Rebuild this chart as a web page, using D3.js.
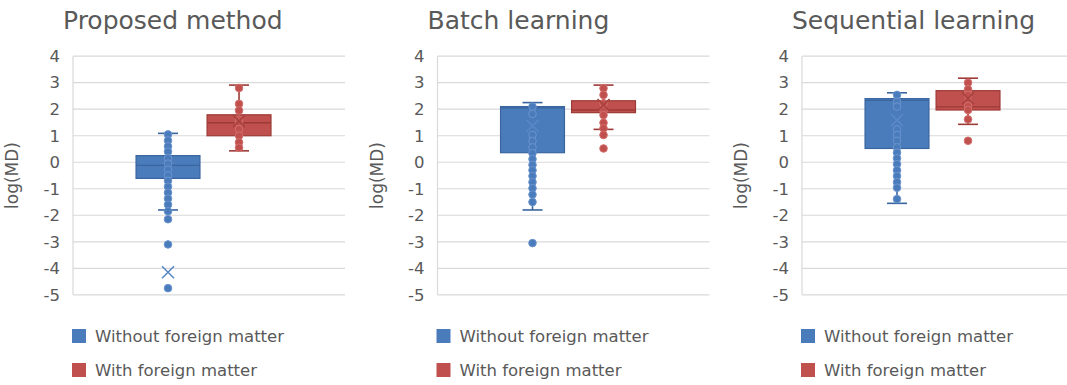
<!DOCTYPE html>
<html>
<head>
<meta charset="utf-8">
<script src="https://cdn.jsdelivr.net/npm/d3@7"></script>
<style>
  html, body { margin: 0; padding: 0; background: #fff; }
  svg { display: block; font-family: "DejaVu Sans", Verdana, sans-serif; }
</style>
</head>
<body>
<svg id="chart" width="1067" height="385"></svg>
<script>
// Panel titles, series and axis ticks
const methods = ["Proposed method", "Batch learning", "Sequential learning"];
const seriesNames = ["Without foreign matter", "With foreign matter"];
const yTicks = [-5, -4, -3, -2, -1, 0, 1, 2, 3, 4];

// Box statistics per method: [lower whisker, Q1, median, Q3, upper whisker, mean]
const withoutStats = [
  [-1.8, -0.61, -0.12, 0.25, 1.09, -4.15],
  [-1.8, 0.36, 2.05, 2.1, 2.25, 1.37],
  [-1.55, 0.52, 2.33, 2.4, 2.62, 1.59]
];
const withStats = [
  [0.43, 1.0, 1.49, 1.79, 2.91, 1.55],
  [1.24, 1.87, 1.97, 2.32, 2.91, 2.16],
  [1.43, 1.97, 2.09, 2.7, 3.17, 2.41]
];

// Individual log(MD) values per method
const withoutPoints = [
  [1.05, 0.82, 0.6, 0.4, 0.15, -0.05, -0.28, -0.5, -0.7, -0.92, -1.15, -1.37, -1.6, -1.85, -2.15, -3.1, -4.75],
  [2.1, 1.82, 1.03, 0.8, 0.56, 0.34, 0.12, -0.1, -0.3, -0.52, -0.75, -0.98, -1.22, -1.5, -3.05],
  [2.54, 2.28, 2.1, 1.24, 1.03, 0.81, 0.56, 0.36, 0.15, -0.07, -0.3, -0.52, -0.75, -0.96, -1.39]
];
const withPoints = [
  [2.8, 2.2, 1.95, 1.6, 1.5, 1.25, 1.0, 0.75, 0.55],
  [2.79, 2.54, 2.22, 1.95, 1.78, 1.49, 1.28, 1.03, 0.52],
  [3.0, 2.75, 2.54, 2.28, 2.12, 1.97, 1.62, 0.81]
];

const palette = [
  { fill: "#4a7bbb", edge: "#3a659f", ring: "#6b95cf", mean: "#5a88c6" },
  { fill: "#c0504d", edge: "#9c3a37", ring: "#d46e6b", mean: "#a8413e" }
];

const svg = d3.select("#chart");
const panelStep = 364.5;
const plotW = 272;
const plotTop = 56.2, plotBottom = 294.8;

const y = d3.scaleLinear().domain([-5, 4]).range([plotBottom, plotTop]);

methods.forEach((title, m) => {
  const left = 73 + m * panelStep;
  const g = svg.append("g");

  const x = d3.scaleBand()
    .domain(seriesNames)
    .range([left, left + plotW])
    .paddingInner(0.1)
    .paddingOuter(0.965)
    .align(0.46);

  // title
  g.append("text")
    .attr("x", left - 10)
    .attr("y", 29)
    .attr("font-size", 25)
    .attr("fill", "#595959")
    .text(title);

  // gridlines
  g.selectAll("line.grid").data(yTicks).join("line")
    .attr("class", "grid")
    .attr("x1", left).attr("x2", left + plotW)
    .attr("y1", d => y(d)).attr("y2", d => y(d))
    .attr("stroke", "#d9d9d9").attr("stroke-width", 1.2);

  // vertical axis line
  g.append("line")
    .attr("x1", left).attr("x2", left)
    .attr("y1", y(4)).attr("y2", y(-5))
    .attr("stroke", "#d9d9d9").attr("stroke-width", 1.2);

  // tick labels (plain hyphen for negatives)
  const axis = d3.axisLeft(y).tickValues(yTicks).tickSize(0).tickPadding(13).tickFormat(d => String(d));
  const ax = g.append("g").attr("transform", `translate(${left},0)`).call(axis);
  ax.select(".domain").remove();
  ax.selectAll("text")
    .attr("font-size", 16.5)
    .attr("font-family", "DejaVu Sans, Verdana, sans-serif")
    .attr("fill", "#595959");

  // y-axis title
  g.append("text")
    .attr("transform", `translate(${left - 55},${(plotTop + plotBottom) / 2}) rotate(-90)`)
    .attr("text-anchor", "middle")
    .attr("font-size", 17)
    .attr("fill", "#595959")
    .text("log(MD)");

  // boxes
  const sets = [
    { name: seriesNames[0], s: withoutStats[m], pts: withoutPoints[m], c: palette[0] },
    { name: seriesNames[1], s: withStats[m], pts: withPoints[m], c: palette[1] }
  ];

  sets.forEach(set => {
    const [lo, q1, med, q3, hi, mean] = set.s;
    const bx = x(set.name), bw = x.bandwidth(), cx = bx + bw / 2;
    const c = set.c;
    const capW = 20;

    // whiskers
    g.append("line").attr("x1", cx).attr("x2", cx).attr("y1", y(q3)).attr("y2", y(hi))
      .attr("stroke", c.edge).attr("stroke-width", 1.6);
    g.append("line").attr("x1", cx).attr("x2", cx).attr("y1", y(q1)).attr("y2", y(lo))
      .attr("stroke", c.edge).attr("stroke-width", 1.6);
    g.append("line").attr("x1", cx - capW / 2).attr("x2", cx + capW / 2).attr("y1", y(hi)).attr("y2", y(hi))
      .attr("stroke", c.edge).attr("stroke-width", 1.6);
    g.append("line").attr("x1", cx - capW / 2).attr("x2", cx + capW / 2).attr("y1", y(lo)).attr("y2", y(lo))
      .attr("stroke", c.edge).attr("stroke-width", 1.6);

    // box
    g.append("rect")
      .attr("x", bx).attr("width", bw)
      .attr("y", y(q3)).attr("height", y(q1) - y(q3))
      .attr("fill", c.fill).attr("stroke", c.edge).attr("stroke-width", 1.2);

    // median
    g.append("line").attr("x1", bx).attr("x2", bx + bw).attr("y1", y(med)).attr("y2", y(med))
      .attr("stroke", c.edge).attr("stroke-width", 1.3);

    // points
    g.selectAll(null).data(set.pts).join("circle")
      .attr("cx", cx).attr("cy", d => y(d)).attr("r", 3.8)
      .attr("fill", c.fill).attr("stroke", c.ring).attr("stroke-width", 1);

    // mean marker
    const ms = 6, my = y(mean);
    g.append("path")
      .attr("d", `M${cx - ms},${my - ms}L${cx + ms},${my + ms}M${cx - ms},${my + ms}L${cx + ms},${my - ms}`)
      .attr("stroke", c.mean).attr("stroke-width", 1.6).attr("fill", "none");
  });

  // legend
  seriesNames.forEach((name, i) => {
    const ly = 336 + i * 34;
    g.append("rect")
      .attr("x", left - 1).attr("y", ly - 7)
      .attr("width", 14).attr("height", 14)
      .attr("fill", palette[i].fill);
    g.append("text")
      .attr("x", left + 22).attr("y", ly + 6)
      .attr("font-size", 16.5)
      .attr("fill", "#595959")
      .text(name);
  });
});
</script>
</body>
</html>
